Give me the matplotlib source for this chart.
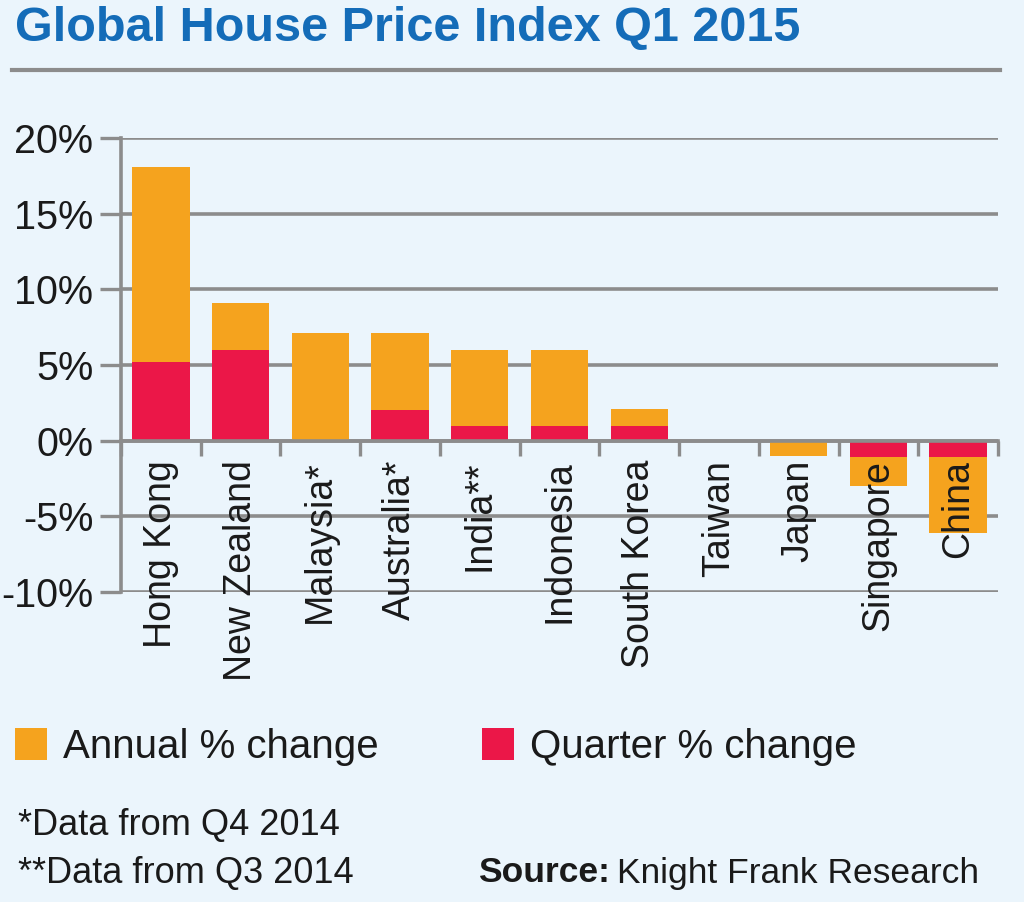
import numpy as np
import matplotlib
matplotlib.use("Agg")
import matplotlib.pyplot as plt
from matplotlib.lines import Line2D
from matplotlib.patches import Patch

# ---- data ----
countries = ["Hong Kong", "New Zealand", "Malaysia*", "Australia*", "India**",
             "Indonesia", "South Korea", "Taiwan", "Japan", "Singapore", "China"]
annual_change = [18.1, 9.1, 7.1, 7.1, 6.0, 6.0, 2.1, 0.0, -1.0, -3.0, -6.1]
quarter_change = [5.2, 6.0, 0.0, 2.0, 1.0, 1.0, 1.0, 0.0, 0.0, -1.1, -1.1]
y_ticks = [-10, -5, 0, 5, 10, 15, 20]
y_tick_labels = [f"{v}%" for v in y_ticks]

title = "Global House Price Index Q1 2015"
legend_labels = ["Annual % change", "Quarter % change"]

ORANGE = "#F5A31E"
RED = "#EB1748"
BG = "#EBF5FC"
GRID = "#8C8C8C"
BLUE = "#146CB8"
TXT = "#1A1A1A"

plt.rcParams['font.family'] = ['Liberation Sans', 'DejaVu Sans']

W, H = 1024, 902
fig = plt.figure(figsize=(W / 100, H / 100), dpi=100, facecolor=BG)

ax = fig.add_axes([121 / W, 1 - 592 / H, (998 - 121) / W, (592 - 138) / H])
ax.set_facecolor(BG)

x = np.arange(len(countries))
bw = 0.72
ax.bar(x, annual_change, width=bw, color=ORANGE, linewidth=0, zorder=1)
ax.bar(x, quarter_change, width=bw, color=RED, linewidth=0, zorder=1.1)

ax.set_xlim(-0.5, len(countries) - 0.5)
ax.set_ylim(-10, 20)

# y axis
ax.set_yticks(y_ticks)
ax.set_yticklabels(y_tick_labels, fontsize=28.5, color=TXT)
ax.tick_params(axis='y', length=15, width=2.4, color=GRID, pad=5)
ax.yaxis.grid(True, color=GRID, linewidth=2.6)
ax.yaxis.set_zorder(0.5)

# x axis at zero
ax.spines['bottom'].set_position(('data', 0))
ax.spines['bottom'].set_color(GRID)
ax.spines['bottom'].set_linewidth(2.6)
ax.spines['left'].set_color(GRID)
ax.spines['left'].set_linewidth(2.6)
ax.spines['top'].set_visible(False)
ax.spines['right'].set_visible(False)

ax.set_xticks(x)
ax.set_xticklabels(countries, rotation=90, fontsize=27, color=TXT)
ax.set_xticks(np.arange(-0.5, len(countries)), minor=True)
ax.tick_params(axis='x', which='major', length=0, pad=14)
ax.tick_params(axis='x', which='minor', length=11, width=2.4, color=GRID)

# title and rule
fig.text(15 / W, 1 - 29 / H, title, fontsize=35, fontweight='bold', color=BLUE,
         ha='left', va='center')
fig.add_artist(Line2D([12 / W, 1000 / W], [1 - 70 / H] * 2, transform=fig.transFigure,
                      color=GRID, linewidth=3))

# legend
for lab, col, xpos in [(legend_labels[0], ORANGE, 15), (legend_labels[1], RED, 482)]:
    fig.legend(handles=[Patch(facecolor=col, edgecolor='none', label=lab)],
               loc='center left', bbox_to_anchor=(xpos / W, 1 - 747 / H),
               frameon=False, fontsize=29, handlelength=0.8, handleheight=0.85,
               handletextpad=0.38, borderpad=0, borderaxespad=0, labelcolor=TXT)

# footnotes
FS = 26
fig.text(18 / W, 1 - 826 / H, "*Data from Q4 2014", fontsize=FS, color=TXT,
         ha='left', va='center')
fig.text(18 / W, 1 - 873 / H, "**Data from Q3 2014", fontsize=FS, color=TXT,
         ha='left', va='center')
src = fig.text(478 / W, 1 - 873 / H, "Source:", fontsize=25.5, color=TXT,
               fontweight='bold', ha='left', va='center')
fig.canvas.draw()
bb = src.get_window_extent()
fig.text((bb.x1 + 7) / W, 1 - 873 / H, "Knight Frank Research", fontsize=25.5,
         color=TXT, ha='left', va='center')

fig.savefig("out.png", dpi=100, facecolor=BG)
